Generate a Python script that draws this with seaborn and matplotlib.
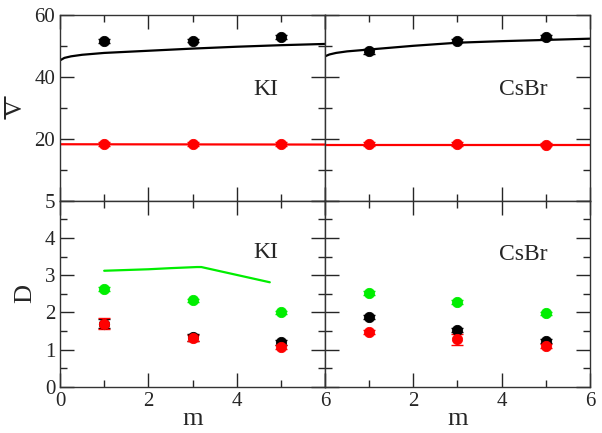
import numpy as np
import pandas as pd
import seaborn as sns
import matplotlib.pyplot as plt
from matplotlib.lines import Line2D
from matplotlib.ticker import MultipleLocator

# --- datos ---
m_pts = [1, 3, 5]

# panel superior: volumen molar parcial
ki_v_black = [51.6, 51.8, 52.9]
ki_v_red = [18.3, 18.3, 18.3]
cs_v_black = [48.3, 51.8, 53.1]
cs_v_red = [18.3, 18.3, 18.2]
v_err = [0.7, 0.6, 0.6]

line_m = [0, 0.1, 0.25, 0.5, 1, 2, 3, 4, 5, 6]
ki_v_line = [45.4, 46.2, 46.7, 47.2, 47.8, 48.5, 49.2, 49.8, 50.3, 50.7]
cs_v_line = [46.7, 47.3, 47.8, 48.3, 48.9, 50.1, 51.1, 51.6, 52.0, 52.4]
red_line_m = [0, 6]
ki_v_red_line = [18.3, 18.2]
cs_v_red_line = [18.2, 18.2]

# panel inferior: coeficientes de difusion
ki_d_green = [2.62, 2.32, 2.00]
ki_d_black = [1.70, 1.33, 1.19]
ki_d_red = [1.69, 1.31, 1.06]
ki_err_green = [0.05, 0.05, 0.05]
ki_err_black = [0.12, 0.10, 0.06]
ki_err_red = [0.15, 0.08, 0.05]
ki_green_line_m = [1, 2, 2.5, 3.1, 3.2, 4.75]
ki_green_line = [3.12, 3.16, 3.19, 3.22, 3.22, 2.81]

cs_d_green = [2.53, 2.28, 1.97]
cs_d_black = [1.88, 1.52, 1.22]
cs_d_red = [1.47, 1.28, 1.09]
cs_err_green = [0.05, 0.05, 0.04]
cs_err_black = [0.05, 0.05, 0.05]
cs_err_red = [0.06, 0.15, 0.05]

sns.set_style("ticks")
plt.rcParams['font.family'] = ['Liberation Serif', 'DejaVu Serif']

BLACK, RED, GREEN = 'black', '#ff0000', '#00ee00'

fig, axes = plt.subplots(2, 2, figsize=(6.02, 4.33), dpi=100)
fig.subplots_adjust(left=0.0997, right=0.980, top=0.965, bottom=0.107,
                    hspace=0, wspace=0)


def puntos(ax, y, err, color):
    ax.errorbar(m_pts, y, yerr=err, fmt='none', ecolor=color, capsize=4,
                elinewidth=1, zorder=3)
    sns.scatterplot(x=m_pts, y=y, color=color, s=55, edgecolor=color,
                    ax=ax, zorder=4, legend=False)


def linea(ax, x, y, color):
    sns.lineplot(x=x, y=y, color=color, lw=1.6, ax=ax, estimator=None,
                 sort=False, zorder=2)


# superior
linea(axes[0, 0], line_m, ki_v_line, BLACK)
linea(axes[0, 0], red_line_m, ki_v_red_line, RED)
puntos(axes[0, 0], ki_v_black, v_err, BLACK)
puntos(axes[0, 0], ki_v_red, v_err, RED)

linea(axes[0, 1], line_m, cs_v_line, BLACK)
linea(axes[0, 1], red_line_m, cs_v_red_line, RED)
puntos(axes[0, 1], cs_v_black, v_err, BLACK)
puntos(axes[0, 1], cs_v_red, v_err, RED)

# inferior
linea(axes[1, 0], ki_green_line_m, ki_green_line, GREEN)
puntos(axes[1, 0], ki_d_black, ki_err_black, BLACK)
puntos(axes[1, 0], ki_d_green, ki_err_green, GREEN)
puntos(axes[1, 0], ki_d_red, ki_err_red, RED)

puntos(axes[1, 1], cs_d_black, cs_err_black, BLACK)
puntos(axes[1, 1], cs_d_green, cs_err_green, GREEN)
puntos(axes[1, 1], cs_d_red, cs_err_red, RED)

for ax in axes.flat:
    ax.set_xlim(0, 6)
    ax.xaxis.set_major_locator(MultipleLocator(2))
    ax.xaxis.set_minor_locator(MultipleLocator(1))
    ax.tick_params(which='both', direction='in', top=True, right=True,
                   labelsize=15, width=1)
    ax.tick_params(which='major', length=10)
    ax.tick_params(which='minor', length=5)
    for s in ax.spines.values():
        s.set_linewidth(1)
        s.set_color('#333333')

for ax in axes[0]:
    ax.set_ylim(0, 60)
    ax.yaxis.set_major_locator(MultipleLocator(20))
    ax.yaxis.set_minor_locator(MultipleLocator(10))
    ax.tick_params(labelbottom=False)
for ax in axes[1]:
    ax.set_ylim(0, 5)
    ax.yaxis.set_major_locator(MultipleLocator(1))
    ax.yaxis.set_minor_locator(MultipleLocator(0.5))

axes[0, 0].set_yticks([0, 20, 40, 60], ['', '20', '40', '60'])
axes[1, 0].set_xticks([0, 2, 4, 6], ['0', '2', '4', '6'])
axes[1, 1].set_xticks([0, 2, 4, 6], ['', '2', '4', '6'])
for ax in axes[:, 1]:
    ax.tick_params(labelleft=False)

# V con barra encima (girado, la barra queda a la izquierda)
fig.text(16 / 602, 1 - 108 / 433, 'V', rotation=90, fontsize=18,
         ha='center', va='center')
fig.add_artist(Line2D([5 / 602, 5 / 602], [1 - 97 / 433, 1 - 119 / 433],
                      color='black', lw=1.2, transform=fig.transFigure))
axes[1, 0].set_ylabel('D', fontsize=19, labelpad=6)
for ax in axes[1]:
    ax.set_xlabel('m', fontsize=19, labelpad=-2)

etiquetas = [(axes[0, 0], 'KI', 4.65, 0.60), (axes[1, 0], 'KI', 4.65, 0.72),
             (axes[0, 1], 'CsBr', 4.5, 0.60), (axes[1, 1], 'CsBr', 4.5, 0.71)]
for ax, txt, xt, yt in etiquetas:
    ax.text(xt, yt, txt, transform=ax.get_xaxis_transform(),
            fontsize=17, ha='center', va='center')

plt.savefig('out.png', dpi=100)
